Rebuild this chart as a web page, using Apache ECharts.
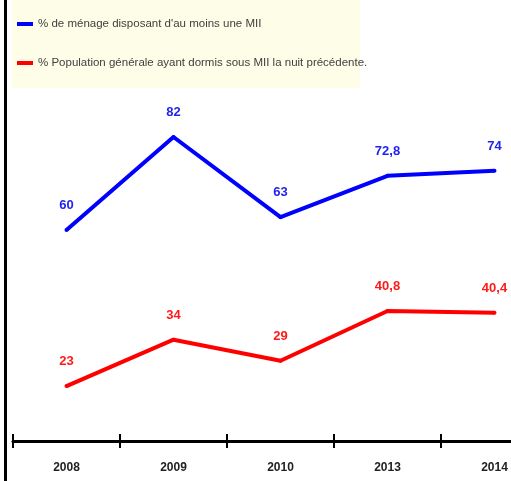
<!DOCTYPE html>
<html><head><meta charset="utf-8">
<script src="https://cdn.jsdelivr.net/npm/echarts@6/dist/echarts.min.js"></script>
<style>html,body{margin:0;padding:0;background:#fff}#c{width:511px;height:481px}</style>
</head><body><div id="c"></div>
<script>
const categories = ['2008', '2009', '2010', '2013', '2014'];
const seriesNames = ["% de ménage disposant d'au moins une MII", '% Population générale ayant dormis sous MII la nuit précédente.'];
const menageMII = [60, 82, 63, 72.8, 74];
const populationMII = [23, 34, 29, 40.8, 40.4];

const FONT = '"Liberation Sans Narrow", "Liberation Sans", Arial, sans-serif';
const fmt = p => String(p.value).replace('.', ',');

const chart = echarts.init(document.getElementById('c'), null, {renderer: 'canvas'});
chart.setOption({
  animation: false,
  backgroundColor: '#ffffff',
  graphic: [
    {type: 'rect', left: 12, top: 0, shape: {width: 348, height: 88}, style: {fill: '#fefee8'}, z: -1},
    {type: 'rect', left: 4, top: 0, shape: {width: 3, height: 481}, style: {fill: '#000'}}
  ],
  legend: {
    orient: 'vertical', left: 12, top: 13, itemGap: 27,
    itemWidth: 16, itemHeight: 4, icon: 'rect',
    textStyle: {fontFamily: FONT, fontSize: 11.5, color: '#404040'},
    data: seriesNames
  },
  grid: {left: 13, width: 535, top: 61, height: 380, containLabel: false, outerBoundsMode: 'none'},
  xAxis: [
    {
      type: 'category', data: categories, boundaryGap: true, position: 'bottom',
      axisLine: {lineStyle: {color: '#000', width: 3}},
      axisTick: {show: true, length: 7, lineStyle: {color: '#000', width: 2}},
      axisLabel: {fontFamily: FONT, fontSize: 12, fontWeight: 'bold', color: '#222', margin: 21}
    },
    {
      type: 'category', data: categories, boundaryGap: true, position: 'bottom',
      axisLine: {show: false},
      axisTick: {show: true, inside: true, length: 7, lineStyle: {color: '#000', width: 2}},
      axisLabel: {show: false}
    }
  ],
  yAxis: {type: 'value', min: 10, max: 100, show: false, splitLine: {show: false}},
  series: [
    {
      name: seriesNames[0], type: 'line', data: menageMII, color: '#0000ff',
      symbol: 'circle', symbolSize: 4, showSymbol: true, itemStyle: {color: '#0000ff', borderWidth: 0},
      lineStyle: {width: 4, color: '#0000ff'},
      label: {show: true, position: 'top', distance: 16, formatter: fmt,
        fontFamily: FONT, fontSize: 13, fontWeight: 'bold', color: '#2323ee'}
    },
    {
      name: seriesNames[1], type: 'line', data: populationMII, color: '#ff0000',
      symbol: 'circle', symbolSize: 4, showSymbol: true, itemStyle: {color: '#ff0000', borderWidth: 0},
      lineStyle: {width: 4, color: '#ff0000'},
      label: {show: true, position: 'top', distance: 16, formatter: fmt,
        fontFamily: FONT, fontSize: 13, fontWeight: 'bold', color: '#ff1a1a'}
    }
  ]
});
</script></body></html>
